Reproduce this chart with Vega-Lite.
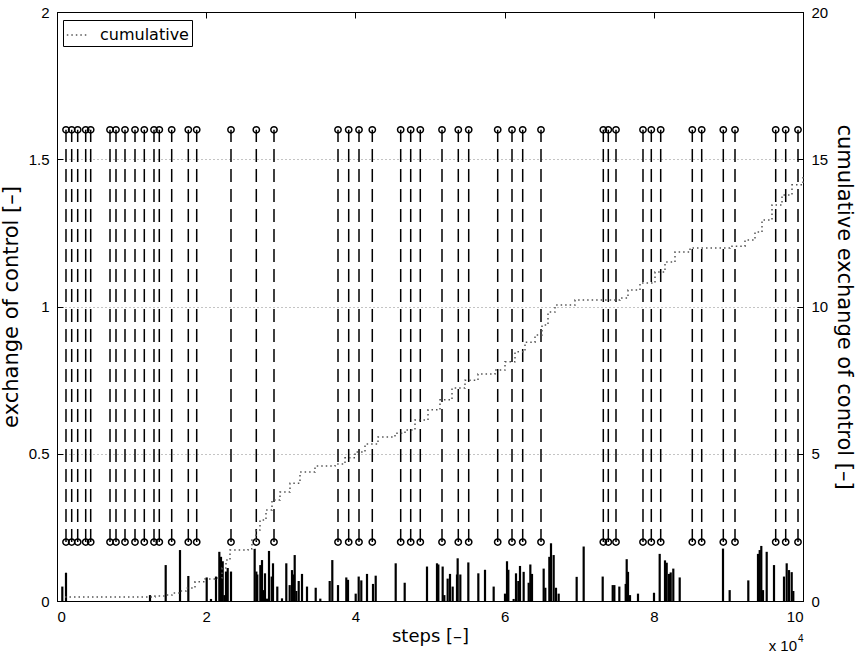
{
  "$schema": "https://vega.github.io/schema/vega-lite/v6.json",
  "width": 746,
  "height": 589,
  "autosize": {"type": "none"},
  "padding": {"left": 57, "top": 12, "right": 54, "bottom": 55},
  "background": "white",
  "config": {
    "font": "Liberation Sans",
    "view": {"stroke": "black", "strokeWidth": 1},
    "axis": {
      "domainColor": "black",
      "tickColor": "black",
      "labelColor": "black",
      "titleColor": "black",
      "labelFont": "Liberation Sans",
      "titleFont": "DejaVu Sans",
      "labelFontSize": 15,
      "titleFontSize": 18,
      "titleFontWeight": "normal",
      "tickSize": -6,
      "labelPadding": 14,
      "grid": false
    },
    "legend": {
      "labelFont": "DejaVu Sans",
      "labelFontSize": 16,
      "labelColor": "black"
    }
  },
  "datasets": {
    "events": [
      {"step": 1206, "low": 0.2, "high": 1.6}, {"step": 1970, "low": 0.2, "high": 1.6},
      {"step": 2775, "low": 0.2, "high": 1.6}, {"step": 3847, "low": 0.2, "high": 1.6},
      {"step": 4517, "low": 0.2, "high": 1.6}, {"step": 7105, "low": 0.2, "high": 1.6},
      {"step": 7909, "low": 0.2, "high": 1.6}, {"step": 9115, "low": 0.2, "high": 1.6},
      {"step": 10456, "low": 0.2, "high": 1.6}, {"step": 11702, "low": 0.2, "high": 1.6},
      {"step": 13003, "low": 0.2, "high": 1.6}, {"step": 13713, "low": 0.2, "high": 1.6},
      {"step": 15375, "low": 0.2, "high": 1.6}, {"step": 17601, "low": 0.2, "high": 1.6},
      {"step": 18727, "low": 0.2, "high": 1.6}, {"step": 23324, "low": 0.2, "high": 1.6},
      {"step": 26716, "low": 0.2, "high": 1.6}, {"step": 29088, "low": 0.2, "high": 1.6},
      {"step": 37668, "low": 0.2, "high": 1.6}, {"step": 39102, "low": 0.2, "high": 1.6},
      {"step": 40483, "low": 0.2, "high": 1.6}, {"step": 42265, "low": 0.2, "high": 1.6},
      {"step": 46072, "low": 0.2, "high": 1.6}, {"step": 47413, "low": 0.2, "high": 1.6},
      {"step": 48700, "low": 0.2, "high": 1.6}, {"step": 51609, "low": 0.2, "high": 1.6},
      {"step": 53793, "low": 0.2, "high": 1.6}, {"step": 55188, "low": 0.2, "high": 1.6},
      {"step": 59075, "low": 0.2, "high": 1.6}, {"step": 60992, "low": 0.2, "high": 1.6},
      {"step": 62426, "low": 0.2, "high": 1.6}, {"step": 64879, "low": 0.2, "high": 1.6},
      {"step": 73231, "low": 0.2, "high": 1.6}, {"step": 73901, "low": 0.2, "high": 1.6},
      {"step": 74933, "low": 0.2, "high": 1.6}, {"step": 78552, "low": 0.2, "high": 1.6},
      {"step": 79665, "low": 0.2, "high": 1.6}, {"step": 80925, "low": 0.2, "high": 1.6},
      {"step": 85161, "low": 0.2, "high": 1.6}, {"step": 86421, "low": 0.2, "high": 1.6},
      {"step": 89316, "low": 0.2, "high": 1.6}, {"step": 90885, "low": 0.2, "high": 1.6},
      {"step": 96340, "low": 0.2, "high": 1.6}, {"step": 97681, "low": 0.2, "high": 1.6},
      {"step": 99330, "low": 0.2, "high": 1.6}
    ],
    "spikes": [
      {"step": 712, "value": 0.049}, {"step": 1206, "value": 0.096}, {"step": 12466, "value": 0.02},
      {"step": 14571, "value": 0.122}, {"step": 16488, "value": 0.173}, {"step": 17605, "value": 0.085},
      {"step": 20067, "value": 0.08}, {"step": 20643, "value": 0.007}, {"step": 21314, "value": 0.083},
      {"step": 21760, "value": 0.167}, {"step": 21984, "value": 0.15}, {"step": 22212, "value": 0.135},
      {"step": 22430, "value": 0.02}, {"step": 22654, "value": 0.1}, {"step": 22882, "value": 0.112},
      {"step": 23324, "value": 0.1}, {"step": 26497, "value": 0.177}, {"step": 26720, "value": 0.1},
      {"step": 26850, "value": 0.09}, {"step": 27256, "value": 0.122}, {"step": 27480, "value": 0.139},
      {"step": 27708, "value": 0.037}, {"step": 27882, "value": 0.094}, {"step": 28150, "value": 0.008},
      {"step": 28418, "value": 0.17}, {"step": 28780, "value": 0.083}, {"step": 28954, "value": 0.128},
      {"step": 29530, "value": 0.049}, {"step": 30160, "value": 0.009}, {"step": 30737, "value": 0.128},
      {"step": 31193, "value": 0.054}, {"step": 31501, "value": 0.105}, {"step": 31728, "value": 0.09},
      {"step": 31863, "value": 0.156}, {"step": 32078, "value": 0.034}, {"step": 32400, "value": 0.068},
      {"step": 32842, "value": 0.092}, {"step": 33512, "value": 0.049}, {"step": 34679, "value": 0.045},
      {"step": 35295, "value": 0.008}, {"step": 36555, "value": 0.068}, {"step": 36904, "value": 0.139},
      {"step": 37668, "value": 0.054}, {"step": 38780, "value": 0.08}, {"step": 39008, "value": 0.072},
      {"step": 40040, "value": 0.025}, {"step": 40442, "value": 0.083}, {"step": 40791, "value": 0.07},
      {"step": 41555, "value": 0.092}, {"step": 42359, "value": 0.058}, {"step": 42721, "value": 0.086},
      {"step": 45402, "value": 0.128}, {"step": 46608, "value": 0.062}, {"step": 49598, "value": 0.117},
      {"step": 50938, "value": 0.128}, {"step": 51117, "value": 0.124}, {"step": 51697, "value": 0.117},
      {"step": 51921, "value": 0.02}, {"step": 52368, "value": 0.076}, {"step": 52681, "value": 0.092},
      {"step": 53038, "value": 0.049}, {"step": 53619, "value": 0.09}, {"step": 53708, "value": 0.145},
      {"step": 54066, "value": 0.09}, {"step": 55138, "value": 0.131}, {"step": 56479, "value": 0.094},
      {"step": 57373, "value": 0.106}, {"step": 58535, "value": 0.049}, {"step": 60054, "value": 0.025},
      {"step": 60322, "value": 0.135}, {"step": 60501, "value": 0.106}, {"step": 61215, "value": 0.007},
      {"step": 61528, "value": 0.094}, {"step": 61841, "value": 0.068}, {"step": 62064, "value": 0.119},
      {"step": 62555, "value": 0.099}, {"step": 63227, "value": 0.062}, {"step": 63450, "value": 0.124},
      {"step": 63673, "value": 0.092}, {"step": 65237, "value": 0.11}, {"step": 65460, "value": 0.045},
      {"step": 65996, "value": 0.15}, {"step": 66220, "value": 0.196}, {"step": 66577, "value": 0.156},
      {"step": 66890, "value": 0.045}, {"step": 67248, "value": 0.025}, {"step": 69661, "value": 0.082},
      {"step": 70600, "value": 0.185}, {"step": 73150, "value": 0.083}, {"step": 74491, "value": 0.054},
      {"step": 74714, "value": 0.054}, {"step": 75380, "value": 0.049}, {"step": 76233, "value": 0.058},
      {"step": 76367, "value": 0.142}, {"step": 76542, "value": 0.099}, {"step": 76810, "value": 0.02},
      {"step": 77882, "value": 0.025}, {"step": 80027, "value": 0.028}, {"step": 80790, "value": 0.16},
      {"step": 81501, "value": 0.138}, {"step": 81729, "value": 0.13}, {"step": 82038, "value": 0.092},
      {"step": 82265, "value": 0.097}, {"step": 82614, "value": 0.11}, {"step": 83472, "value": 0.08},
      {"step": 89276, "value": 0.178}, {"step": 90170, "value": 0.037}, {"step": 92668, "value": 0.07},
      {"step": 93968, "value": 0.16}, {"step": 94196, "value": 0.173}, {"step": 94410, "value": 0.187},
      {"step": 94638, "value": 0.037}, {"step": 95134, "value": 0.167}, {"step": 96113, "value": 0.122},
      {"step": 97453, "value": 0.083}, {"step": 97815, "value": 0.128}, {"step": 98123, "value": 0.105},
      {"step": 98485, "value": 0.098}, {"step": 98700, "value": 0.034}
    ],
    "cum": [
      {"step": 1072, "total": 0.14, "series": "cumulative"},
      {"step": 12198, "total": 0.14, "series": "cumulative"},
      {"step": 13137, "total": 0.17, "series": "cumulative"},
      {"step": 14477, "total": 0.2, "series": "cumulative"},
      {"step": 15416, "total": 0.27, "series": "cumulative"},
      {"step": 16488, "total": 0.34, "series": "cumulative"},
      {"step": 17292, "total": 0.44, "series": "cumulative"},
      {"step": 18499, "total": 0.65, "series": "cumulative"},
      {"step": 19839, "total": 0.75, "series": "cumulative"},
      {"step": 21180, "total": 0.78, "series": "cumulative"},
      {"step": 22118, "total": 1.12, "series": "cumulative"},
      {"step": 22654, "total": 1.39, "series": "cumulative"},
      {"step": 23190, "total": 1.73, "series": "cumulative"},
      {"step": 25603, "total": 1.77, "series": "cumulative"},
      {"step": 26139, "total": 2.07, "series": "cumulative"},
      {"step": 26676, "total": 2.41, "series": "cumulative"},
      {"step": 27212, "total": 2.75, "series": "cumulative"},
      {"step": 28016, "total": 3.09, "series": "cumulative"},
      {"step": 28820, "total": 3.43, "series": "cumulative"},
      {"step": 29893, "total": 3.7, "series": "cumulative"},
      {"step": 31233, "total": 4.0, "series": "cumulative"},
      {"step": 32574, "total": 4.38, "series": "cumulative"},
      {"step": 34584, "total": 4.58, "series": "cumulative"},
      {"step": 37265, "total": 4.65, "series": "cumulative"},
      {"step": 38606, "total": 4.86, "series": "cumulative"},
      {"step": 39946, "total": 5.06, "series": "cumulative"},
      {"step": 41287, "total": 5.33, "series": "cumulative"},
      {"step": 43029, "total": 5.57, "series": "cumulative"},
      {"step": 45308, "total": 5.7, "series": "cumulative"},
      {"step": 46649, "total": 5.81, "series": "cumulative"},
      {"step": 47989, "total": 6.15, "series": "cumulative"},
      {"step": 49732, "total": 6.49, "series": "cumulative"},
      {"step": 51340, "total": 6.83, "series": "cumulative"},
      {"step": 52949, "total": 7.23, "series": "cumulative"},
      {"step": 54692, "total": 7.5, "series": "cumulative"},
      {"step": 56434, "total": 7.71, "series": "cumulative"},
      {"step": 58713, "total": 7.84, "series": "cumulative"},
      {"step": 60054, "total": 8.12, "series": "cumulative"},
      {"step": 61394, "total": 8.46, "series": "cumulative"},
      {"step": 62735, "total": 8.79, "series": "cumulative"},
      {"step": 64075, "total": 9.03, "series": "cumulative"},
      {"step": 65013, "total": 9.37, "series": "cumulative"},
      {"step": 65818, "total": 9.81, "series": "cumulative"},
      {"step": 66756, "total": 10.05, "series": "cumulative"},
      {"step": 69437, "total": 10.22, "series": "cumulative"},
      {"step": 75469, "total": 10.29, "series": "cumulative"},
      {"step": 76542, "total": 10.56, "series": "cumulative"},
      {"step": 78150, "total": 10.8, "series": "cumulative"},
      {"step": 80161, "total": 11.17, "series": "cumulative"},
      {"step": 81501, "total": 11.51, "series": "cumulative"},
      {"step": 82842, "total": 11.85, "series": "cumulative"},
      {"step": 84853, "total": 11.99, "series": "cumulative"},
      {"step": 90214, "total": 12.05, "series": "cumulative"},
      {"step": 92225, "total": 12.26, "series": "cumulative"},
      {"step": 93566, "total": 12.53, "series": "cumulative"},
      {"step": 94504, "total": 12.94, "series": "cumulative"},
      {"step": 95845, "total": 13.45, "series": "cumulative"},
      {"step": 97185, "total": 13.79, "series": "cumulative"},
      {"step": 98525, "total": 14.13, "series": "cumulative"},
      {"step": 100000, "total": 14.47, "series": "cumulative"}
    ]
  },
  "layer": [
    {
      "layer": [
        {
          "data": {"name": "events"},
          "mark": {"type": "rule", "color": "black", "strokeWidth": 1.5, "strokeDash": [13, 7]},
          "encoding": {
            "x": {
              "field": "step", "type": "quantitative",
              "scale": {"domain": [0, 100000], "nice": false, "zero": false},
              "axis": {
                "orient": "bottom", "title": "steps [–]",
                "values": [0, 20000, 40000, 60000, 80000, 100000],
                "labelExpr": "'' + (datum.value / 10000)",
                "titlePadding": 3
              }
            },
            "y": {
              "field": "low", "type": "quantitative",
              "scale": {"domain": [0, 2], "nice": false},
              "axis": {
                "orient": "left", "title": "exchange of control [–]",
                "titleFontSize": 21,
                "values": [0, 0.5, 1, 1.5, 2],
                "labelExpr": "'' + datum.value",
                "grid": true, "gridColor": "#888888", "gridDash": [1, 3], "gridWidth": 1,
                "titlePadding": 7
              }
            },
            "y2": {"field": "high"}
          }
        },
        {
          "data": {"name": "events"},
          "mark": {"type": "point", "shape": "circle", "filled": false, "color": "black", "strokeWidth": 1.5, "size": 40, "opacity": 1},
          "encoding": {
            "x": {"field": "step", "type": "quantitative"},
            "y": {"field": "low", "type": "quantitative"}
          }
        },
        {
          "data": {"name": "events"},
          "mark": {"type": "point", "shape": "circle", "filled": false, "color": "black", "strokeWidth": 1.5, "size": 40, "opacity": 1},
          "encoding": {
            "x": {"field": "step", "type": "quantitative"},
            "y": {"field": "high", "type": "quantitative"}
          }
        },
        {
          "data": {"name": "spikes"},
          "mark": {"type": "rule", "color": "black", "strokeWidth": 2.2},
          "encoding": {
            "x": {"field": "step", "type": "quantitative"},
            "y": {"field": "value", "type": "quantitative"},
            "y2": {"datum": 0}
          }
        },
        {
          "data": {"values": [{"label": "x 10"}]},
          "mark": {"type": "text", "fontSize": 15, "color": "black", "align": "right", "baseline": "middle", "dx": -6, "dy": 45, "font": "Liberation Sans"},
          "encoding": {
            "x": {"datum": 100000},
            "y": {"datum": 0},
            "text": {"field": "label"}
          }
        },
        {
          "data": {"values": [{"label": "4"}]},
          "mark": {"type": "text", "fontSize": 10, "color": "black", "align": "left", "baseline": "middle", "dx": -5, "dy": 38, "font": "Liberation Sans"},
          "encoding": {
            "x": {"datum": 100000},
            "y": {"datum": 0},
            "text": {"field": "label"}
          }
        }
      ]
    },
    {
      "data": {"name": "cum"},
      "mark": {"type": "line", "interpolate": "step-after", "color": "#555555", "strokeWidth": 1.5},
      "encoding": {
        "x": {
          "field": "step", "type": "quantitative",
          "axis": {"orient": "top", "title": null, "labels": false, "values": [0, 20000, 40000, 60000, 80000, 100000]}
        },
        "y": {
          "field": "total", "type": "quantitative",
          "scale": {"domain": [0, 20], "nice": false},
          "axis": {
            "orient": "right", "title": "cumulative exchange of control [–]",
            "titleFontSize": 21,
            "values": [0, 5, 10, 15, 20],
            "titlePadding": 6
          }
        },
        "strokeDash": {
          "field": "series", "type": "nominal",
          "scale": {"domain": ["cumulative"], "range": [[1.5, 3]]},
          "legend": {
            "title": null, "orient": "none", "legendX": 6, "legendY": 8,
            "strokeColor": "black", "fillColor": "white", "padding": 3,
            "symbolType": "stroke", "symbolStrokeColor": "#555555", "symbolStrokeWidth": 1.5,
            "symbolSize": 500, "labelFontSize": 16, "labelOffset": 10
          }
        }
      }
    }
  ],
  "resolve": {
    "scale": {"y": "independent"},
    "axis": {"x": "independent", "y": "independent"}
  }
}
